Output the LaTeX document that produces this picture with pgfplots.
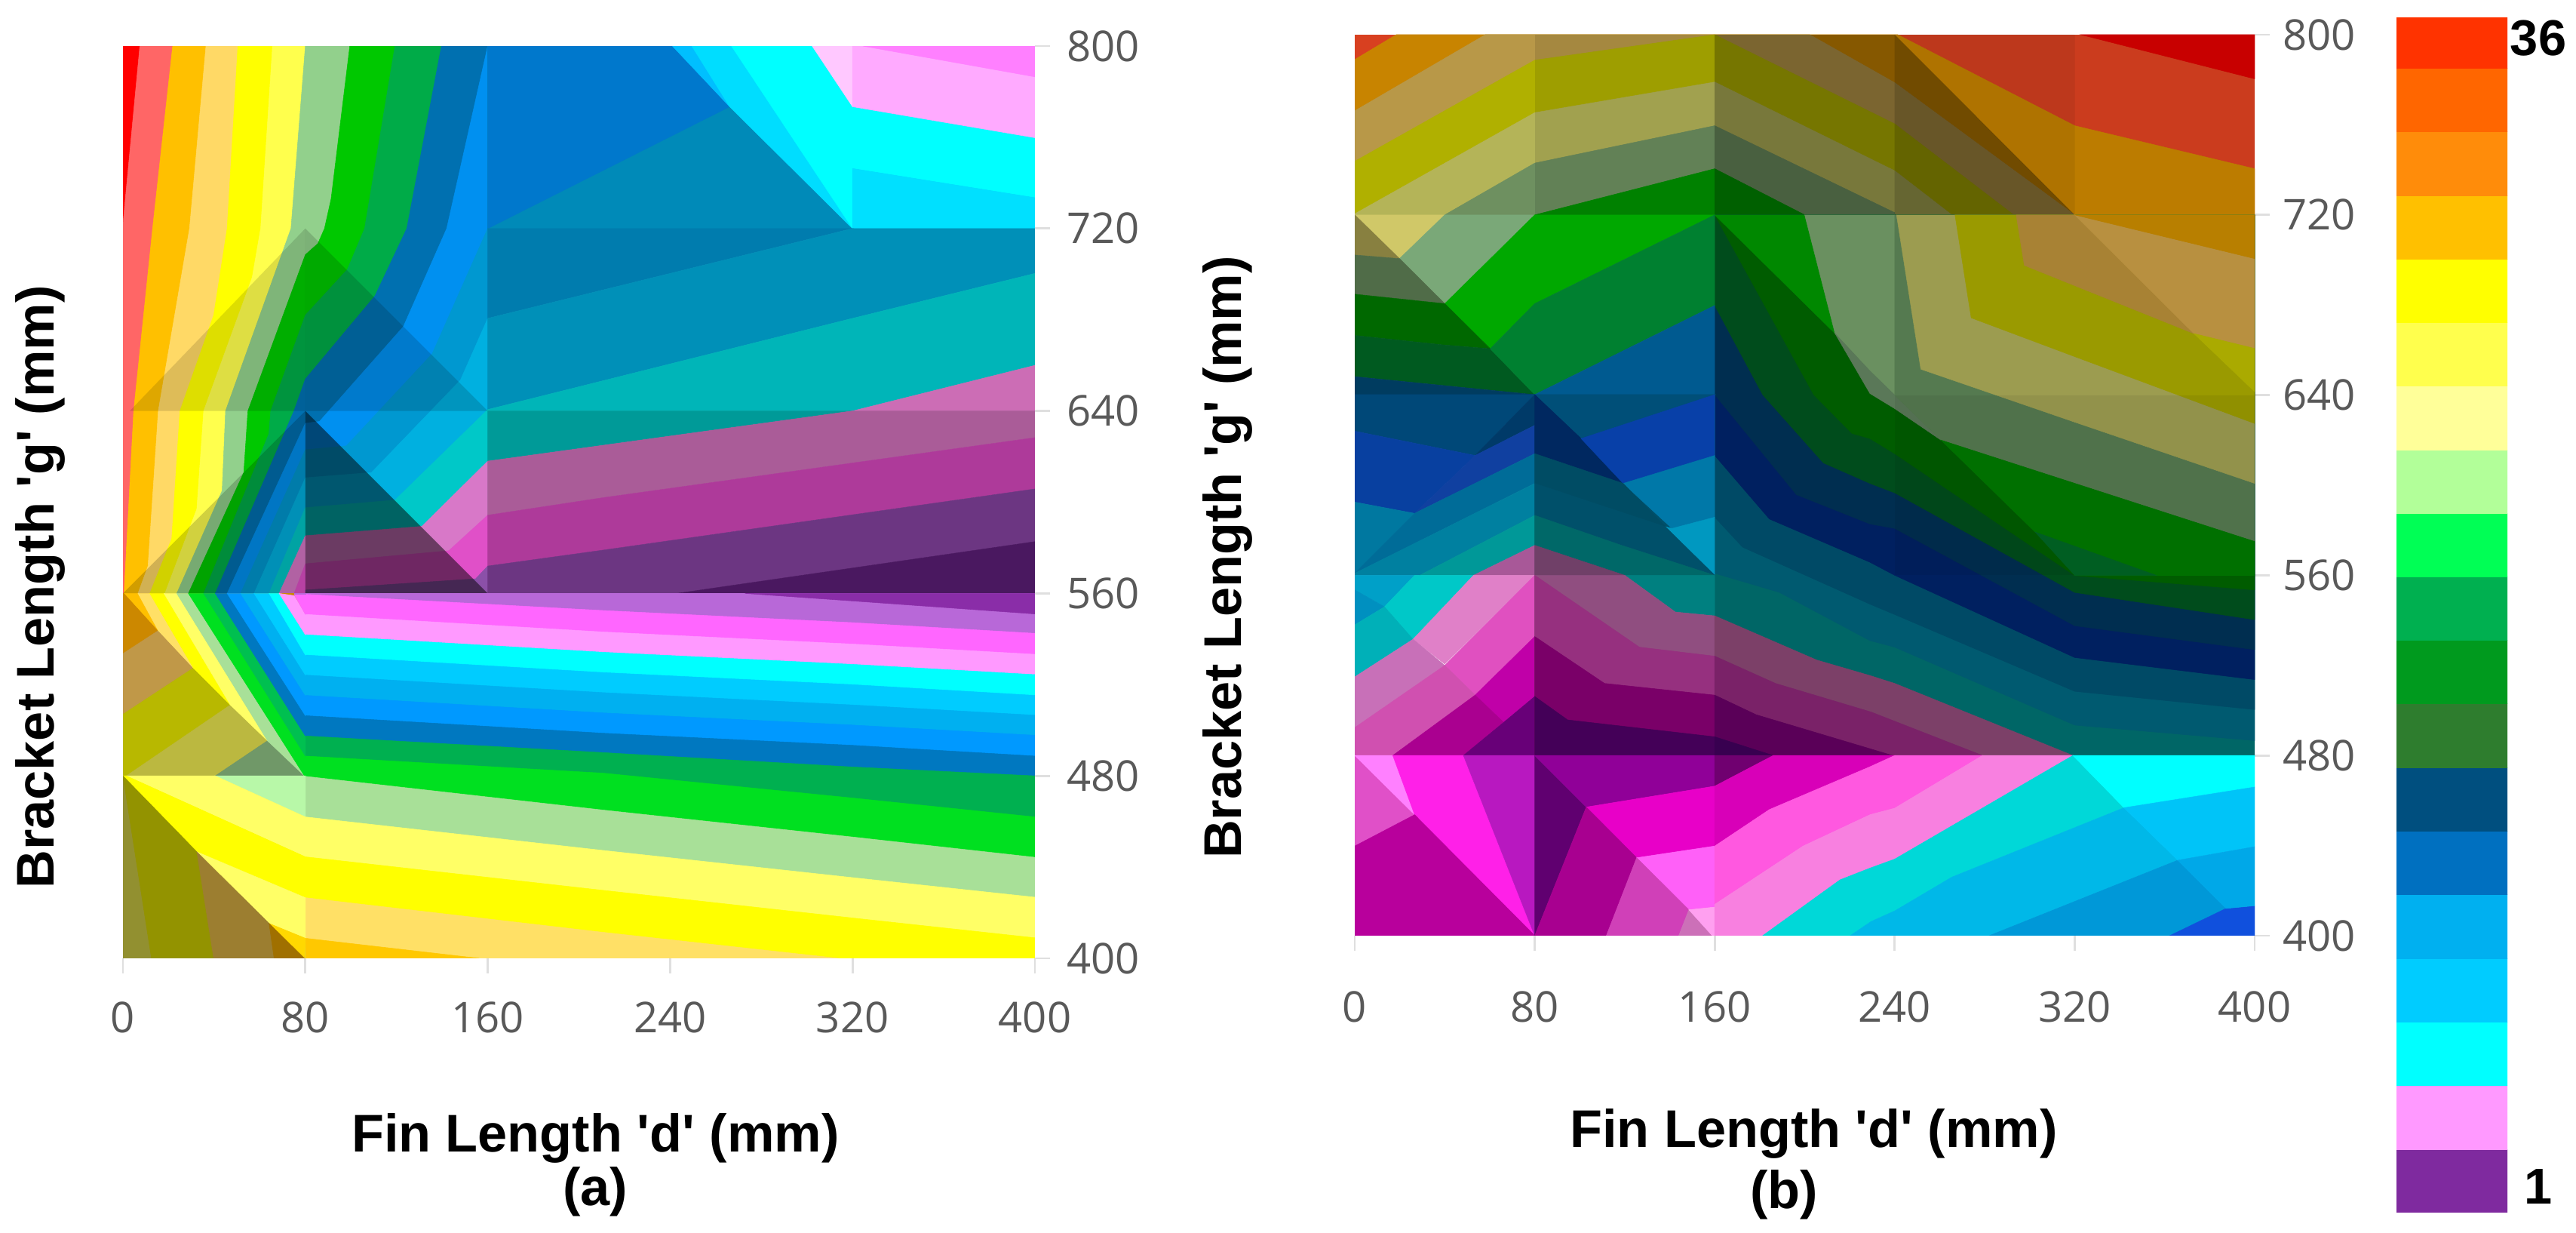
\documentclass[border=0pt]{standalone}
\usepackage{fontspec}
\usepackage{pgfplots}
\pgfplotsset{compat=1.18}
\setmainfont{Liberation Sans}
\newfontfamily\tickfont{Open Sans}
\newfontfamily\lblfont{Liberation Sans}
\definecolor{tickgray}{HTML}{595959}
% one filled region per call, colour given as hex
\newcommand{\pg}[2]{\xglobal\definecolor{c#1}{HTML}{#1}\addplot[fill=c#1,draw=c#1,line width=0.15pt] coordinates {#2} --cycle;}
% shading of a mesh cell
\newcommand{\sh}[2]{\addplot[fill=black,fill opacity=#1,draw=none] coordinates {#2} --cycle;}
\pgfplotsset{panel/.style={
    scale only axis,
    xmin=0, xmax=400, ymin=400, ymax=800,
    xtick={0,80,160,240,320,400},
    ytick={400,480,560,640,720,800},
    axis x line*=bottom, axis y line*=right,
    axis line style={draw=none},
    tick align=outside,
    major tick length=0.2cm,
    tick style={draw=gray!25,line width=0.8pt},
    /pgf/number format/assume math mode=true,
    tick label style={font=\tickfont\fontsize{16}{18}\selectfont,text=tickgray},
    label style={font=\lblfont\bfseries\fontsize{20}{24}\selectfont},
    xlabel={Fin Length 'd' (mm)},
    ylabel={Bracket Length 'g' (mm)},
}}
\begin{document}
\begin{tikzpicture}
\path[use as bounding box] (0,0) rectangle (34.15cm,16.34cm);

% ---- panel (a)
\begin{axis}[panel, at={(1.63cm,3.64cm)}, anchor=south west, width=12.09cm, height=12.09cm,
    xlabel style={at={(axis description cs:0.518,-0.197)},anchor=center},
    ylabel style={at={(axis description cs:-0.091,0.407)},anchor=center},
    xticklabel style={yshift=-0.25cm}, yticklabel style={xshift=0.1cm}]
\pg{FF0000}{(0,560)(160,560)(160,800)(0,800)}
\pg{FF6666}{(7.4,800)(0,722)(0,560)(160,560)(160,800)}
\pg{FFC000}{(21.8,800)(13,720)(4.7,640)(0.5,560)(160,560)(160,800)}
\pg{FFD966}{(36.4,800)(29.2,720)(15.5,640)(11,572)(6.6,560)(160,560)(160,800)}
\pg{FFFF00}{(50.4,800)(45.7,720)(39.8,682)(25,640)(21.4,584)(11.8,560)(160,560)(160,800)}
\pg{FFFF4D}{(65.6,800)(60.4,720)(56.7,698.6)(35.4,640)(32.4,597)(18.4,560)(160,560)(160,800)}
\pg{92D08C}{(80,800)(73.7,720)(45,640)(43.5,605)(23.6,560)(160,560)(160,800)}
\pg{00C800}{(99.5,800)(91.3,733)(88.4,720)(85.5,713.4)(80,708.5)(54.8,640)(53,613)(28.7,560)(160,560)(160,800)}
\pg{00AB48}{(119.3,800)(106,720)(98.4,702)(80,682)(64.8,640)(64,630)(35.4,560)(160,560)(160,800)}
\pg{0070B0}{(139.7,800)(124.5,720)(110.5,690.4)(80,654)(75,640)(40.5,560)(160,560)(160,800)}
\pg{0090F0}{(160,800)(142,720)(123,677)(86.2,635.4)(80,634.6)(45.7,560)(160,560)}
\pg{0098D0}{(160,720)(135.6,665)(98,624.7)(80,623)(51.6,560)(160,560)}
\pg{00B0E0}{(160,680.6)(148,653.5)(109,613)(80,610.7)(57.5,560)(160,560)}
\pg{00C8C8}{(160,640.6)(119.3,600.9)(80,597.6)(64.1,560)(160,560)}
\pg{D878C8}{(160,618)(131.1,589.4)(80,585.3)(68.5,560)(160,560)}
\pg{E050C8}{(160,594.3)(142.9,578.7)(80,573)(75.1,560)(160,560)}
\pg{8B50A8}{(160,572)(154.7,566.4)(80,561.5)(80,560)(160,560)}
\sh{0.13}{(3,640)(80,720)(80,640)}
\sh{0.18}{(0,560)(80,640)(80,560)}
\sh{0.15}{(80,720)(160,640)(80,640)}
\sh{0.5}{(80,640)(160,560)(80,560)}
% x from 160 on, above 560
\pg{008AB8}{(160,800)(400,800)(400,720)(160,720)}
\pg{0078CC}{(160,800)(241,800)(266.1,773.4)(160,720)}
\pg{00BFFF}{(241,800)(249.5,800)(266.1,773.4)}
\pg{00DDFF}{(249.5,800)(266.9,800)(320,720)(266.1,773.4)}
\pg{00FFFF}{(266.9,800)(302.3,800)(320,773.4)(400,759.8)(400,733.5)(320,746.3)(320,720)}
\pg{FFC8FF}{(302.3,800)(320,800)(320,773.4)}
\pg{FFAAFF}{(320,800)(400,800)(400,759.8)(320,773.4)}
\pg{FF80FF}{(324.5,800)(400,800)(400,786.5)}
\pg{00E0FF}{(320,746.3)(400,733.5)(400,720)(320,720)}
\pg{007CAE}{(160,720)(320,720)(160,680.6)}
\pg{0090B8}{(160,680.6)(320,720)(400,720)(400,700.3)(320,680.6)(160,640.6)}
\pg{00B5B8}{(160,640.6)(320,680.6)(400,700.3)(400,660)(320,640)(160,640)}
\pg{009A98}{(160,640)(320,640)(160,618)}
\pg{CC6DB5}{(320,640)(400,660)(400,640)}
\pg{AA5C98}{(160,618)(320,640)(400,640)(400,628.3)(210.75,602)(160,594.3)}
\pg{AE3A9A}{(160,594.3)(210.75,602)(400,628.3)(400,605.8)(210.75,579)(160,572)}
\pg{6C3682}{(160,572)(210.75,579)(400,605.8)(400,582.7)(243,560)(160,560)}
\pg{4A1860}{(243,560)(400,582.7)(400,560)}
% below 560
\pg{CC8800}{(0,400)(80,400)(80,560)(0,560)}
\pg{B868D8}{(80,400)(400,400)(400,560)(80,560)}
\pg{8A2DA8}{(272.8,560)(400,560)(400,551)(320,556.7)}
\pg{FF66FF}{(80,559.6)(210.75,552.5)(320,547.2)(400,542.5)(400,400)(80,400)}
\pg{FF99FF}{(80,550.8)(210.75,543.1)(320,537.8)(400,533.3)(400,400)(80,400)}
\pg{00FFFF}{(80,541.9)(210.75,534.2)(320,528.9)(400,524.4)(400,400)(80,400)}
\pg{00CCFF}{(80,533)(210.75,525.3)(320,520)(400,515.3)(400,400)(80,400)}
\pg{00B0F0}{(80,524.2)(210.75,516.5)(320,511.1)(400,506.6)(400,400)(80,400)}
\pg{0099FF}{(80,515.3)(210.75,507.6)(320,502.3)(400,497.8)(400,400)(80,400)}
\pg{0078C0}{(80,506.4)(210.75,498.7)(320,493.4)(400,488.7)(400,400)(80,400)}
\pg{00B050}{(80,497.5)(210.75,490.2)(320,483.9)(400,480)(400,400)(80,400)}
\pg{00E020}{(80,488.7)(210.75,481.2)(320,470.3)(400,462)(400,400)(80,400)}
\pg{A8E098}{(80,479.8)(210.75,465)(320,453.2)(400,444.3)(400,400)(80,400)}
\pg{FFFF66}{(80,462)(210.75,447.3)(320,435.4)(400,426.8)(400,400)(80,400)}
\pg{FFFF00}{(80,444.5)(210.75,429.8)(320,417.7)(400,409)(400,400)(80,400)}
\pg{FFE066}{(80,426.6)(210.75,411.4)(314,400)(80,400)}
\pg{FFC800}{(80,408.8)(156.2,400)(80,400)}
% fan left of 80
\pg{C09848}{(15.5,543.7)(30.9,527.3)(0,507)(0,533.6)}
\pg{B8B800}{(30.9,527.3)(47.1,511.1)(1.5,480)(0,480)(0,507)}
\pg{BBB840}{(47.1,511.1)(63.4,495.4)(40.5,480)(1.5,480)}
\pg{709868}{(63.4,495.4)(79.6,480)(40.5,480)}
\pg{FFC000}{(0.7,560)(6.6,560)(15.5,543.7)}
\pg{FFE066}{(6.6,560)(11.8,560)(30.9,527.3)(15.5,543.7)}
\pg{FFFF00}{(11.8,560)(18,560)(47.1,511.1)(30.9,527.3)}
\pg{FFFF66}{(18,560)(23.6,560)(63.4,495.4)(47.1,511.1)}
\pg{A8E098}{(23.6,560)(28.7,560)(79.6,480)(63.4,495.4)}
\pg{00E020}{(28.7,560)(35.4,560)(80,488.7)(80,480)(79.6,480)}
\pg{00C050}{(35.4,560)(40.5,560)(80,497.5)(80,488.7)}
\pg{0078C0}{(40.5,560)(45.7,560)(80,506.4)(80,497.5)}
\pg{0099FF}{(45.7,560)(51.6,560)(80,515.3)(80,506.4)}
\pg{00B0F0}{(51.6,560)(57.5,560)(80,524.2)(80,515.3)}
\pg{00CCFF}{(57.5,560)(64.1,560)(80,533)(80,524.2)}
\pg{00FFFF}{(64.1,560)(68.5,560)(80,541.9)(80,533)}
\pg{FF99FF}{(68.5,560)(75.1,559)(80,550.8)(80,541.9)}
\pg{FF66FF}{(75.1,559.6)(80,559.6)(80,550.8)}
\pg{B868D8}{(75.1,560)(80,560)(80,559.6)(75.1,559.6)}
% below 480, left of 80
\pg{B8F8A8}{(40.5,480)(80,480)(80,462)}
\pg{FFFF66}{(1.5,480)(40.5,480)(80,462)(80,444.5)}
\pg{FFFF00}{(0,480)(1.5,480)(80,444.5)(80,426.6)(32.4,446.7)}
\pg{FFFF66}{(32.4,446.7)(80,426.6)(80,408.8)(64.1,415.3)}
\pg{FFD800}{(64.1,415.3)(80,408.8)(79.6,400)}
\pg{929030}{(0,480)(12.5,400)(0,400)}
\pg{939300}{(0,480)(32.4,446.7)(39.8,400)(12.5,400)}
\pg{9C7E30}{(32.4,446.7)(64.1,415.3)(66.3,400)(39.8,400)}
\pg{A07000}{(64.1,415.3)(79.6,400)(66.3,400)}
\end{axis}
\node[font=\lblfont\bfseries\fontsize{20}{24}\selectfont] at (7.89cm,0.55cm) {(a)};

% ---- panel (b)
\begin{axis}[panel, at={(17.96cm,3.94cm)}, anchor=south west, width=11.93cm, height=11.94cm,
    xlabel style={at={(axis description cs:0.51,-0.22)},anchor=center},
    ylabel style={at={(axis description cs:-0.141,0.42)},anchor=center},
    xticklabel style={yshift=-0.41cm}, yticklabel style={xshift=0.05cm}]
% row 720-800
\pg{D84020}{(0,720)(400,720)(400,800)(0,800)}
\pg{C88400}{(0,789)(18.4,800)(241.4,800)(320,759.6)(400,740.5)(400,720)(0,720)}
\pg{B89848}{(0,766.2)(58,800)(202.3,800)(240,778.7)(320,720)(0,720)}
\pg{B0B000}{(0,743.8)(80,788.7)(160,800)(240,760.4)(292.9,720)(0,720)}
\pg{B4B458}{(0,720.5)(80,765.4)(160,779)(240,739.6)(265.4,720)(0,720)}
\pg{6E9060}{(40,720)(80,743)(160,759.6)(240,721)(240,720)}
\pg{009000}{(80,720)(160,740.5)(200,720)}
\sh{0.1}{(80,800)(160,800)(160,720)(80,720)}
\sh{0.33}{(160,800)(240,800)(240,720)(160,720)}
\sh{0.43}{(240,800)(320,720)(240,720)}
\sh{0.12}{(240,800)(320,800)(320,720)}
\sh{0.06}{(320,800)(400,800)(400,720)(320,720)}
\pg{C80000}{(322.8,800)(400,800)(400,780.4)}
% x from 160 on, 480-720
\pg{006666}{(160,480)(400,480)(400,720)(160,720)}
\pg{005A70}{(160,560.9)(188.8,552.4)(229,531)(240,528.1)(320,493.5)(400,486.6)(400,720)(160,720)}
\pg{004A66}{(160,585.8)(172.4,572.5)(229,547.2)(240,542.6)(320,508.5)(400,500.4)(400,720)(160,720)}
\pg{002060}{(160,613.2)(184.3,585)(229,565.8)(240,560)(320,523.5)(400,513.7)(400,720)(160,720)}
\pg{002E50}{(160,640.2)(196.3,595.8)(229,582.8)(240,580.8)(320,537.6)(400,527)(400,720)(160,720)}
\pg{004C1C}{(160,679.8)(181.3,640.2)(208.3,609.9)(229,600.8)(240,596.6)(320,552.4)(400,540.3)(400,720)(160,720)}
\pg{005C00}{(160,720)(204,640.2)(221,623)(229,620.7)(240,614)(320,559.9)(400,553.5)(400,720)}
\pg{008800}{(160,720)(200,720)(213.5,667.3)}
\pg{6A9060}{(200,720)(240,720)(240,640)(229,650.7)(213.5,667.3)}
\pg{5A7858}{(213.5,667.3)(229,650.7)(240,640)(260.6,620)(240,634)(229,640.7)}
\pg{557A50}{(240,720)(240.8,720)(251.6,651.5)(320,628)(400,600.8)(400,575)(260.6,620)(240,640)}
\pg{007800}{(260.6,620)(400,575)(400,560)(356.2,560)(302.4,579.2)}
\pg{006425}{(302.4,579.2)(356.2,560)(320,560)}
\pg{9C9C50}{(240.8,720)(251.6,651.5)(320,628)(400,600.8)(400,720)}
\pg{9A9A00}{(266.8,720)(274,674.3)(320,657.1)(400,627.4)(400,720)}
\pg{A88234}{(294,720)(297.6,697.6)(373,667.3)(320,720)}
\pg{B89040}{(320,720)(373,667.3)(400,660.7)(400,700.6)}
\pg{B87F00}{(320,720)(400,700.6)(400,720)}
\pg{AAAA00}{(373,667.3)(400,660.7)(400,641.5)}
\sh{0.06}{(240,640)(400,640)(400,560)(240,560)}
% x below 160, 640-720
\pg{D0C868}{(0,720)(40,720)(19.9,700.6)}
\pg{888040}{(0,720)(19.9,700.6)(0,702.2)}
\pg{7AA878}{(40,720)(80,720)(40,680.6)(19.9,700.6)}
\pg{00A800}{(80,720)(160,720)(80,680.6)(60.2,660.6)(40,680.6)}
\pg{506C48}{(0,702.2)(19.9,700.6)(40,680.6)(0,684.8)}
\pg{006800}{(0,684.8)(40,680.6)(60.2,660.6)(39.3,662.3)(0,666.5)}
\pg{005A20}{(0,666.5)(39.3,662.3)(60.2,660.6)(80,640.2)(0,648.2)}
\pg{003C60}{(0,648.2)(80,640.2)(0,640.2)}
\pg{008030}{(60.2,660.6)(80,680.6)(160,720)(160,679.8)(80,640.2)}
\pg{005A90}{(80,640.2)(160,679.8)(160,640.2)}
% x below 160, 560-640
\pg{00506A}{(80,560)(160,560)(160,640.2)(80,640.2)}
\pg{004878}{(0,640.2)(80,640.2)(53.5,613.2)(0,624)}
\pg{003A68}{(80,640.2)(53.5,613.2)(80,626.6)}
\pg{0840A0}{(0,624)(53.5,613.2)(26.6,587.5)(0,592.5)}
\pg{1040A0}{(53.5,613.2)(80,626.6)(80,614)(26.6,587.5)}
\pg{0078A0}{(0,592.5)(26.6,587.5)(0,560.9)}
\pg{006C98}{(26.6,587.5)(80,614)(80,600.8)(0,560.9)}
\pg{0080A0}{(0,560.9)(80,600.8)(80,586.6)(28.9,560)(0,560)}
\pg{009898}{(28.9,560)(80,586.6)(80,573.3)(52.8,560)}
\pg{A85898}{(52.8,560)(80,573.3)(80,560)}
\pg{004F78}{(80,640.2)(160,640.2)(100.6,620.7)}
\pg{002860}{(80,640.2)(100.6,620.7)(119.3,600.8)(80,614)}
\pg{0840A8}{(100.6,620.7)(160,640.2)(160,613.2)(119.3,600.8)}
\pg{0078A8}{(119.3,600.8)(160,613.2)(160,585.8)(141,580.8)}
\pg{0098C0}{(138,581.6)(141,580.8)(160,585.8)(160,560)}
\pg{004C64}{(80,614)(119.3,600.8)(138,581.6)(80,600.8)}
\pg{00506A}{(80,600.8)(138,581.6)(160,560)(118.6,573.3)(80,586.6)}
\pg{006868}{(80,586.6)(118.6,573.3)(160,560)(120,560)(80,573.3)}
\pg{704068}{(80,573.3)(120,560)(80,560)}
% 480-560, x below 80
\pg{00A0C8}{(0,560)(26.6,560)(13.2,546)(0,553.5)}
\pg{0090C0}{(0,553.5)(13.2,546)(0,538)}
\pg{00C8C8}{(26.6,560)(52.8,560)(25.9,531.6)(13.2,546)}
\pg{00B0B8}{(0,538)(13.2,546)(25.9,531.6)(0,514.9)}
\pg{E080C8}{(52.8,560)(80,560)(40,520.6)(25.9,531.6)}
\pg{C870B8}{(0,514.9)(25.9,531.6)(40,520)(0,492.4)}
\pg{E050C0}{(80,560)(80,532.8)(53.5,506.8)(40,520)}
\pg{D050B0}{(0,492.4)(40,520)(53.5,506.8)(16.9,480)(0,480)}
\pg{C000A8}{(80,532.8)(80,506.2)(66.2,494.7)(53.5,506.8)}
\pg{AA0090}{(16.9,480)(53.5,506.8)(66.2,494.7)(48.3,480)}
\pg{680078}{(48.3,480)(66.2,494.7)(80,506.2)(80,480)}
% 480-560, x from 80 on
\pg{008080}{(120,560)(160,560)(160,542)(142.5,543.7)}
\pg{904E80}{(80,560)(120,560)(142.5,543.7)(160,542)(160,480)(80,480)}
\pg{7C4068}{(160,542)(205.3,522.4)(229,515.5)(240,512)(319.2,480)(160,480)}
\pg{96307F}{(80,560)(126.5,528.1)(160,524.1)(160,480)(80,480)}
\pg{7A2268}{(160,524.1)(187,512)(229.5,499.3)(240,495.2)(279,480)(160,480)}
\pg{7A0068}{(80,532.8)(111,512)(160,506.8)(160,480)(80,480)}
\pg{5A0058}{(160,506.8)(178.4,498.1)(229,483)(239,480)(160,480)}
\pg{440058}{(80,506.2)(94.6,495.8)(160,488.3)(160,480)(80,480)}
\pg{380050}{(160,488.3)(186,480)(160,480)}
% below 480
\pg{E050C8}{(0,480)(26.6,453.7)(0,439.8)}
\pg{FF80FF}{(0,480)(16.9,480)(26.6,453.7)}
\pg{FF20E8}{(16.9,480)(48.3,480)(80,400)(26.6,453.7)}
\pg{B818C0}{(48.3,480)(80,480)(80,400)}
\pg{B8009C}{(0,439.8)(26.6,453.7)(80,400)(0,400)}
\pg{600070}{(80,480)(102.9,457.1)(80,400)}
\pg{900098}{(80,480)(160,480)(160,466.4)(102.9,457.1)}
\pg{700070}{(160,480)(186,480)(160,466.4)}
\pg{E800C8}{(102.9,457.1)(160,466.4)(160,439.8)(125.3,434.6)}
\pg{A80090}{(102.9,457.1)(125.3,434.6)(111.8,400)(80,400)}
\pg{FF60F8}{(125.3,434.6)(160,439.8)(160,412.7)(148.5,411.5)}
\pg{D040B8}{(125.3,434.6)(148.5,411.5)(144,400)(111.8,400)}
\pg{CC70B8}{(148.5,411.5)(158.9,400)(144,400)}
\pg{FFA0F0}{(148.5,411.5)(160,412.7)(160,400)(158.9,400)}
\pg{D800B8}{(160,466.4)(186,480)(240,480)(229,475)(184.3,456)(160,439.8)}
\pg{FF58E0}{(160,439.8)(184.3,456)(229,475)(240,480)(279,480)(240,456.6)(229,453.7)(199.3,439.8)(160,413.9)}
\pg{F880E0}{(160,413.9)(199.3,439.8)(229,453.7)(240,456.6)(279,480)(319.2,480)(240,434)(229,430)(215.7,424.8)(181.3,400)(160,400)}
\pg{00D8D8}{(181.3,400)(215.7,424.8)(229,430)(240,434)(319.2,480)(341.9,456.8)(265.4,426)(240,411)(229.5,406.3)(220.2,400)}
\pg{00B8E8}{(220.2,400)(229.5,406.3)(240,411)(265.4,426)(341.9,456.8)(365.8,433.5)(282,400)}
\pg{0098D8}{(282,400)(365.8,433.5)(387.3,412.1)(362.2,400)}
\pg{1050DD}{(362.2,400)(387.3,412.1)(400,413.3)(400,400)}
\pg{00FFFF}{(319.2,480)(400,480)(400,466)(341.9,456.8)}
\pg{00C4F8}{(341.9,456.8)(400,466)(400,439.5)(365.8,433.5)}
\pg{00A8E8}{(365.8,433.5)(400,439.5)(400,413.3)(387.3,412.1)}
\end{axis}
\node[font=\lblfont\bfseries\fontsize{20}{24}\selectfont] at (23.65cm,0.51cm) {(b)};

% ---- colour key
\begin{axis}[scale only axis, at={(31.77cm,0.27cm)}, anchor=south west, width=1.47cm, height=15.84cm,
    xmin=0, xmax=1, ymin=1, ymax=36,
    hide x axis, axis y line*=right, axis line style={draw=none},
    ytick={1.77,35.38}, yticklabels={1,36}, major tick length=0pt,
    /pgf/number format/assume math mode=true,
    yticklabel style={anchor=center,xshift=0.41cm,font=\lblfont\bfseries\fontsize{19}{22}\selectfont}]
\pg{7F2A9F}{(0,1)(1,1)(1,2.86)(0,2.86)}
\pg{FF99FF}{(0,2.86)(1,2.86)(1,4.72)(0,4.72)}
\pg{00FFFF}{(0,4.72)(1,4.72)(1,6.59)(0,6.59)}
\pg{00CCFF}{(0,6.59)(1,6.59)(1,8.45)(0,8.45)}
\pg{00B0F0}{(0,8.45)(1,8.45)(1,10.31)(0,10.31)}
\pg{0070C0}{(0,10.31)(1,10.31)(1,12.17)(0,12.17)}
\pg{004F7F}{(0,12.17)(1,12.17)(1,14.03)(0,14.03)}
\pg{2E7D2E}{(0,14.03)(1,14.03)(1,15.9)(0,15.9)}
\pg{009A1E}{(0,15.9)(1,15.9)(1,17.76)(0,17.76)}
\pg{00B050}{(0,17.76)(1,17.76)(1,19.62)(0,19.62)}
\pg{00FF55}{(0,19.62)(1,19.62)(1,21.48)(0,21.48)}
\pg{B2FF99}{(0,21.48)(1,21.48)(1,23.34)(0,23.34)}
\pg{FFFF99}{(0,23.34)(1,23.34)(1,25.21)(0,25.21)}
\pg{FFFF4D}{(0,25.21)(1,25.21)(1,27.07)(0,27.07)}
\pg{FFFF00}{(0,27.07)(1,27.07)(1,28.93)(0,28.93)}
\pg{FFC000}{(0,28.93)(1,28.93)(1,30.79)(0,30.79)}
\pg{FF8C0A}{(0,30.79)(1,30.79)(1,32.65)(0,32.65)}
\pg{FF6600}{(0,32.65)(1,32.65)(1,34.52)(0,34.52)}
\pg{FF3300}{(0,34.52)(1,34.52)(1,36)(0,36)}
\end{axis}
\end{tikzpicture}
\end{document}
